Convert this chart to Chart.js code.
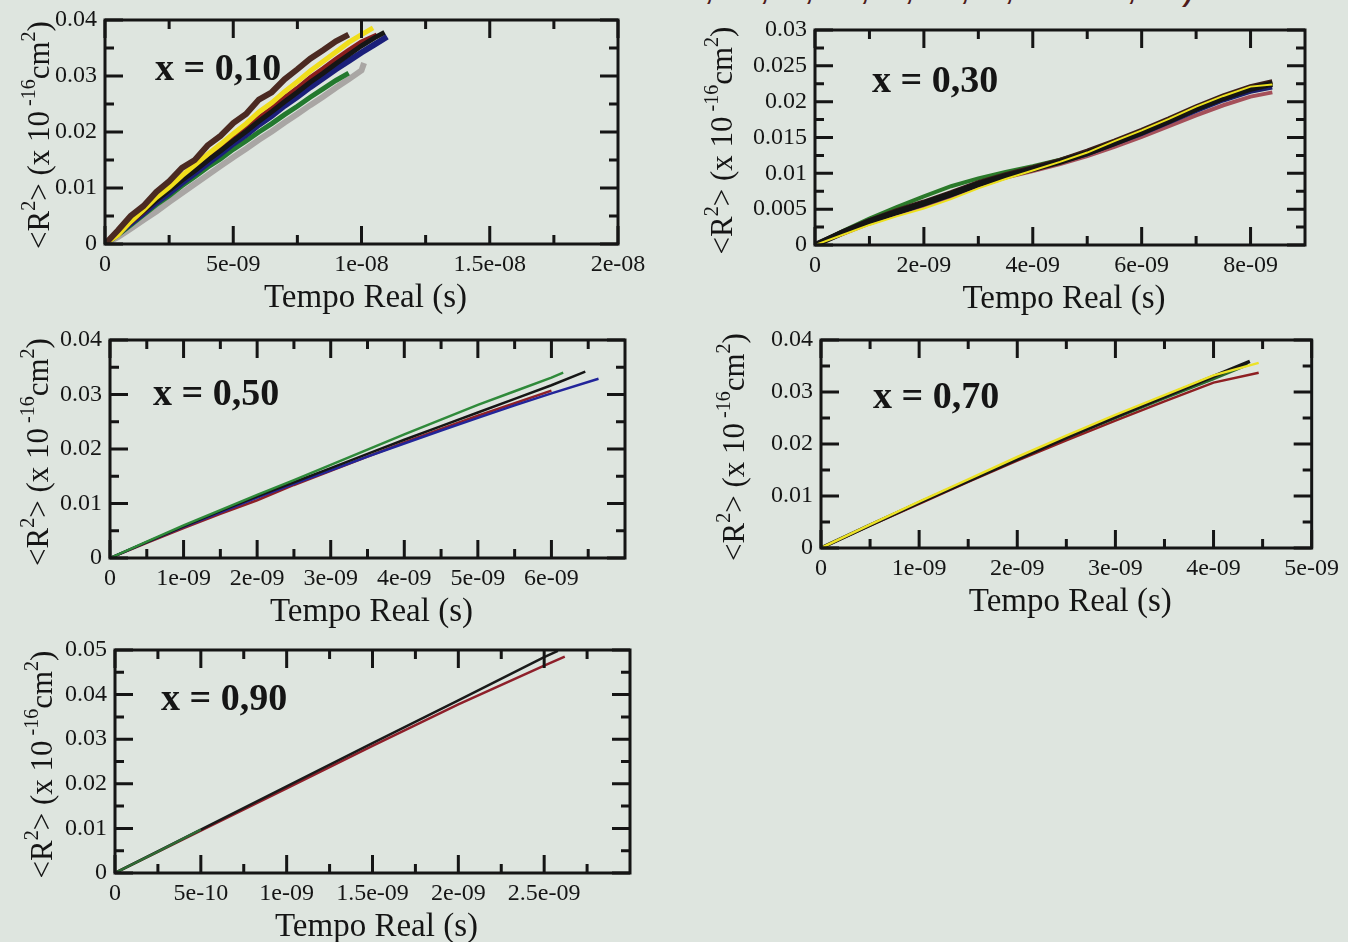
<!DOCTYPE html>
<html>
<head>
<meta charset="utf-8">
<script src="https://cdn.jsdelivr.net/npm/chart.js@4"></script>
<style>
  body { margin: 0; background: #dee5df; width: 1348px; height: 942px; overflow: hidden; position: relative; }
  canvas { position: absolute; }
  #slideTitle {
    position: absolute; left: 700px; top: -35px; width: 495px; height: 44px; overflow: hidden;
    font-family: "Liberation Sans", Arial, sans-serif; font-size: 40px; line-height: 40px;
    color: #4e1a1a; text-align: right; white-space: nowrap; direction: rtl;
  }
</style>
</head>
<body>
<div id="slideTitle"><span style="direction:ltr;unicode-bidi:embed">x = 0,10, 0,30, 0,50, 0,70 e 0,90)</span></div>
<canvas id="c1" width="660" height="320" style="left:0;top:0"></canvas>
<canvas id="c2" width="668" height="320" style="left:680px;top:0"></canvas>
<canvas id="c3" width="660" height="310" style="left:0;top:320px"></canvas>
<canvas id="c4" width="668" height="300" style="left:680px;top:320px"></canvas>
<canvas id="c5" width="660" height="312" style="left:0;top:630px"></canvas>
<script>
// time in ns (labels show seconds), <R2> in 1e-16 cm2

// ---- x = 0,10 ----
const p1XTicks = [0, 5, 10, 15, 20];
const p1XLabels = ["0", "5e-09", "1e-08", "1.5e-08", "2e-08"];
const p1XMinor = [2.5, 7.5, 12.5, 17.5];
const p1YTicks = [0, 0.01, 0.02, 0.03, 0.04];
const p1YLabels = ["0", "0.01", "0.02", "0.03", "0.04"];
const p1YMinor = [0.005, 0.015, 0.025, 0.035];

const p1BrownT = [0, 0.5, 1, 1.5, 2, 2.5, 3, 3.5, 4, 4.5, 5, 5.5, 6, 6.5, 7, 7.5, 8, 8.5, 9, 9.5];
const p1Brown = [0, 0.0024, 0.0050, 0.0068, 0.0093, 0.0112, 0.0136, 0.0150, 0.0176, 0.0193, 0.0216, 0.0232, 0.0258, 0.0271, 0.0294, 0.0312, 0.0331, 0.0346, 0.0362, 0.0374];
const p1YellowT = [0, 0.5, 1, 1.5, 2, 2.5, 3, 3.5, 4, 4.5, 5, 5.5, 6, 6.5, 7, 7.5, 8, 8.5, 9, 9.5, 10, 10.45];
const p1Yellow = [0, 0.0016, 0.0040, 0.0061, 0.0083, 0.0101, 0.0122, 0.0141, 0.0160, 0.0178, 0.0197, 0.0215, 0.0236, 0.0252, 0.0272, 0.0290, 0.0309, 0.0326, 0.0343, 0.0360, 0.0374, 0.0386];
const p1RedT = [0, 0.5, 1, 1.5, 2, 2.5, 3, 3.5, 4, 4.5, 5, 5.5, 6, 6.5, 7, 7.5, 8, 8.5, 9, 9.5, 10, 10.6];
const p1Red = [0, 0.0019, 0.0039, 0.0058, 0.0079, 0.0097, 0.0116, 0.0134, 0.0153, 0.0170, 0.0189, 0.0206, 0.0225, 0.0242, 0.0261, 0.0278, 0.0297, 0.0313, 0.0330, 0.0346, 0.0361, 0.0373];
const p1BlackT = [0, 0.5, 1, 1.5, 2, 2.5, 3, 3.5, 4, 4.5, 5, 5.5, 6, 6.5, 7, 7.5, 8, 8.5, 9, 9.5, 10, 10.5, 10.9];
const p1Black = [0, 0.0020, 0.0040, 0.0059, 0.0078, 0.0096, 0.0114, 0.0131, 0.0149, 0.0166, 0.0184, 0.0201, 0.0219, 0.0236, 0.0254, 0.0271, 0.0289, 0.0305, 0.0322, 0.0338, 0.0354, 0.0368, 0.0378];
const p1BlueT = [0, 0.5, 1, 1.5, 2, 2.5, 3, 3.5, 4, 4.5, 5, 5.5, 6, 6.5, 7, 7.5, 8, 8.5, 9, 9.5, 10, 10.5, 11];
const p1Blue = [0, 0.0018, 0.0037, 0.0055, 0.0074, 0.0091, 0.0109, 0.0126, 0.0144, 0.0161, 0.0179, 0.0195, 0.0213, 0.0229, 0.0247, 0.0263, 0.0280, 0.0296, 0.0312, 0.0327, 0.0342, 0.0356, 0.0370];
const p1GreenT = [0, 0.5, 1, 1.5, 2, 2.5, 3, 3.5, 4, 4.5, 5, 5.5, 6, 6.5, 7, 7.5, 8, 8.5, 9, 9.5];
const p1Green = [0, 0.0016, 0.0034, 0.0052, 0.0070, 0.0086, 0.0104, 0.0120, 0.0137, 0.0152, 0.0169, 0.0184, 0.0200, 0.0215, 0.0231, 0.0246, 0.0262, 0.0277, 0.0292, 0.0305];
const p1GrayT = [0, 0.5, 1, 1.5, 2, 2.5, 3, 3.5, 4, 4.5, 5, 5.5, 6, 6.5, 7, 7.5, 8, 8.5, 9, 9.5, 10, 10.1];
const p1Gray = [0, 0.0012, 0.0027, 0.0043, 0.0058, 0.0075, 0.0091, 0.0107, 0.0123, 0.0139, 0.0155, 0.0170, 0.0186, 0.0201, 0.0217, 0.0232, 0.0248, 0.0263, 0.0279, 0.0294, 0.0310, 0.0323];

// ---- x = 0,30 ----
const p2XTicks = [0, 2, 4, 6, 8];
const p2XLabels = ["0", "2e-09", "4e-09", "6e-09", "8e-09"];
const p2XMinor = [1, 3, 5, 7];
const p2YTicks = [0, 0.005, 0.01, 0.015, 0.02, 0.025, 0.03];
const p2YLabels = ["0", "0.005", "0.01", "0.015", "0.02", "0.025", "0.03"];
const p2YMinor = [0.0025, 0.0075, 0.0125, 0.0175, 0.0225, 0.0275];

const p2T = [0, 0.5, 1, 1.5, 2, 2.5, 3, 3.5, 4, 4.5, 5, 5.5, 6, 6.5, 7, 7.5, 8, 8.4];
const p2Black = [0, 0.0017, 0.0033, 0.0046, 0.0058, 0.0071, 0.0085, 0.0096, 0.0106, 0.0116, 0.0128, 0.0142, 0.0157, 0.0173, 0.0190, 0.0205, 0.0218, 0.0225];
const p2Green = [0, 0.0019, 0.0037, 0.0053, 0.0068, 0.0082, 0.0093, 0.0102, 0.0110, 0.0119, 0.0130, 0.0143, 0.0158, 0.0174, 0.0190, 0.0206, 0.0219, 0.0226];
const p2Yellow = [0, 0.0014, 0.0028, 0.0040, 0.0051, 0.0064, 0.0079, 0.0092, 0.0104, 0.0116, 0.0129, 0.0145, 0.0160, 0.0176, 0.0193, 0.0208, 0.0221, 0.0224];
const p2Pink = [0, 0.0015, 0.0030, 0.0043, 0.0055, 0.0068, 0.0082, 0.0094, 0.0103, 0.0113, 0.0124, 0.0137, 0.0151, 0.0166, 0.0181, 0.0195, 0.0207, 0.0213];
const p2Brown = [0, 0.0018, 0.0034, 0.0048, 0.0060, 0.0073, 0.0087, 0.0098, 0.0108, 0.0118, 0.0131, 0.0145, 0.0160, 0.0176, 0.0193, 0.0208, 0.0221, 0.0228];
const p2Blue = [0, 0.0016, 0.0031, 0.0044, 0.0056, 0.0069, 0.0083, 0.0095, 0.0105, 0.0115, 0.0126, 0.0140, 0.0154, 0.0170, 0.0186, 0.0201, 0.0213, 0.0219];

// ---- x = 0,50 ----
const p3XTicks = [0, 1, 2, 3, 4, 5, 6];
const p3XLabels = ["0", "1e-09", "2e-09", "3e-09", "4e-09", "5e-09", "6e-09"];
const p3XMinor = [0.5, 1.5, 2.5, 3.5, 4.5, 5.5, 6.5];
const p3YTicks = [0, 0.01, 0.02, 0.03, 0.04];
const p3YLabels = ["0", "0.01", "0.02", "0.03", "0.04"];
const p3YMinor = [0.005, 0.015, 0.025, 0.035];

const p3GreenT = [0, 0.5, 1, 1.5, 2, 2.5, 3, 3.5, 4, 4.5, 5, 5.5, 6, 6.16];
const p3Green = [0, 0.0030, 0.0060, 0.0088, 0.0116, 0.0143, 0.0171, 0.0199, 0.0227, 0.0254, 0.0281, 0.0306, 0.0331, 0.0340];
const p3BlackT = [0, 0.5, 1, 1.5, 2, 2.5, 3, 3.5, 4, 4.5, 5, 5.5, 6, 6.46];
const p3Black = [0, 0.0029, 0.0058, 0.0086, 0.0113, 0.0139, 0.0165, 0.0191, 0.0217, 0.0242, 0.0267, 0.0292, 0.0317, 0.0342];
const p3BlueT = [0, 0.5, 1, 1.5, 2, 2.5, 3, 3.5, 4, 4.5, 5, 5.5, 6, 6.64];
const p3Blue = [0, 0.0029, 0.0057, 0.0084, 0.0111, 0.0136, 0.0161, 0.0186, 0.0210, 0.0234, 0.0257, 0.0280, 0.0302, 0.0329];
const p3RedT = [0, 0.5, 1, 1.5, 2, 2.5, 3, 3.5, 4, 4.5, 5, 5.5, 6];
const p3Red = [0, 0.0028, 0.0055, 0.0081, 0.0106, 0.0134, 0.0160, 0.0186, 0.0212, 0.0237, 0.0261, 0.0284, 0.0307];

// ---- x = 0,70 ----
const p4XTicks = [0, 1, 2, 3, 4, 5];
const p4XLabels = ["0", "1e-09", "2e-09", "3e-09", "4e-09", "5e-09"];
const p4XMinor = [0.5, 1.5, 2.5, 3.5, 4.5];
const p4YTicks = [0, 0.01, 0.02, 0.03, 0.04];
const p4YLabels = ["0", "0.01", "0.02", "0.03", "0.04"];
const p4YMinor = [0.005, 0.015, 0.025, 0.035];

const p4BlackT = [0, 0.5, 1, 1.5, 2, 2.5, 3, 3.5, 4, 4.37];
const p4Black = [0, 0.0044, 0.0087, 0.0129, 0.0171, 0.0212, 0.0252, 0.0291, 0.0330, 0.0359];
const p4YellowT = [0, 0.5, 1, 1.5, 2, 2.5, 3, 3.5, 4, 4.46];
const p4Yellow = [0, 0.0045, 0.0089, 0.0132, 0.0175, 0.0216, 0.0256, 0.0294, 0.0332, 0.0356];
const p4RedT = [0, 0.5, 1, 1.5, 2, 2.5, 3, 3.5, 4, 4.46];
const p4Red = [0, 0.0043, 0.0085, 0.0127, 0.0168, 0.0207, 0.0245, 0.0282, 0.0318, 0.0337];
const p4GreenT = [0, 0.5, 1, 1.5, 2, 2.5, 3, 3.5, 4, 4.35];
const p4Green = [0, 0.0044, 0.0088, 0.0130, 0.0172, 0.0212, 0.0250, 0.0288, 0.0325, 0.0352];

// ---- x = 0,90 ----
const p5XTicks = [0, 0.5, 1, 1.5, 2, 2.5];
const p5XLabels = ["0", "5e-10", "1e-09", "1.5e-09", "2e-09", "2.5e-09"];
const p5XMinor = [0.25, 0.75, 1.25, 1.75, 2.25, 2.75];
const p5YTicks = [0, 0.01, 0.02, 0.03, 0.04, 0.05];
const p5YLabels = ["0", "0.01", "0.02", "0.03", "0.04", "0.05"];
const p5YMinor = [0.005, 0.015, 0.025, 0.035, 0.045];

const p5BlackT = [0, 0.5, 1, 1.5, 2, 2.5, 2.58];
const p5Black = [0, 0.0097, 0.0194, 0.0291, 0.0387, 0.0484, 0.0498];
const p5RedT = [0, 0.5, 1, 1.5, 2, 2.5, 2.62];
const p5Red = [0, 0.0095, 0.0190, 0.0285, 0.0378, 0.0465, 0.0485];
const p5GreenT = [0, 0.25, 0.5];
const p5Green = [0, 0.0048, 0.0097];

const SERIF = "'Liberation Serif', 'Times New Roman', serif";
const INK = "#151515";

function pts(xs, ys) {
    return xs.map((x, i) => ({ x: x, y: ys[i] }));
}

function line(xs, ys, color, width) {
    return {
        data: pts(xs, ys),
        borderColor: color,
        borderWidth: width,
        pointRadius: 0,
        tension: 0,
        fill: false
    };
}

// frame, inward ticks on all sides, panel label and axis titles
const decor = {
    id: "decor",
    afterDatasetsDraw(chart, args, o) {
        const ctx = chart.ctx;
        const a = chart.chartArea;
        const xs = chart.scales.x, ys = chart.scales.y;
        ctx.save();
        ctx.strokeStyle = INK;
        ctx.lineWidth = 3;
        ctx.lineCap = "butt";
        ctx.strokeRect(a.left, a.top, a.right - a.left, a.bottom - a.top);
        const tick = (vals, len, horiz) => {
            vals.forEach(v => {
                ctx.beginPath();
                if (horiz) {
                    const p = xs.getPixelForValue(v);
                    ctx.moveTo(p, a.bottom); ctx.lineTo(p, a.bottom - len);
                    ctx.moveTo(p, a.top); ctx.lineTo(p, a.top + len);
                } else {
                    const p = ys.getPixelForValue(v);
                    ctx.moveTo(a.left, p); ctx.lineTo(a.left + len, p);
                    ctx.moveTo(a.right, p); ctx.lineTo(a.right - len, p);
                }
                ctx.stroke();
            });
        };
        tick(o.xMajor, 18, true);
        tick(o.xMinor, 9, true);
        tick(o.yMajor, 18, false);
        tick(o.yMinor, 9, false);

        ctx.fillStyle = INK;
        ctx.textBaseline = "middle";
        ctx.textAlign = "left";
        ctx.font = "bold 38px " + SERIF;
        ctx.fillText(o.label, a.left + o.labelDx, a.top + o.labelDy);

        ctx.textAlign = "center";
        ctx.textBaseline = "alphabetic";
        ctx.font = "33px " + SERIF;
        ctx.fillText("Tempo Real (s)", (a.left + a.right) / 2 + 4, a.bottom + 63);

        // rotated y title with superscripts
        const parts = [["<R", 0], ["2", 1], ["> (x 10", 0], [" -16", 1], ["cm", 0], ["2", 1], [")", 0]];
        const big = "31px " + SERIF, small = "20px " + SERIF;
        let total = 0;
        parts.forEach(p => { ctx.font = p[1] ? small : big; total += ctx.measureText(p[0]).width; });
        ctx.translate(a.left - o.titleDx, (a.top + a.bottom) / 2 + 3);
        ctx.rotate(-Math.PI / 2);
        ctx.textAlign = "left";
        let x = -total / 2;
        parts.forEach(p => {
            ctx.font = p[1] ? small : big;
            ctx.fillText(p[0], x, p[1] ? -3 : 11);
            x += ctx.measureText(p[0]).width;
        });
        ctx.restore();
    }
};

function makePanel(id, box, ax, series, deco) {
    new Chart(document.getElementById(id), {
        type: "line",
        data: { datasets: series },
        options: {
            responsive: false,
            animation: false,
            layout: { padding: { top: box.padT, right: box.padR, left: 0, bottom: 0 } },
            plugins: { legend: { display: false }, tooltip: { enabled: false }, decor: deco },
            scales: {
                x: {
                    type: "linear", min: 0, max: ax.xMax,
                    afterBuildTicks: s => { s.ticks = ax.xTicks.map(v => ({ value: v })); },
                    afterFit: s => { s.height = box.xH; },
                    ticks: {
                        autoSkip: false, maxRotation: 0, padding: 9, color: INK,
                        font: { family: SERIF, size: 24, lineHeight: 1 },
                        callback: (v, i) => ax.xLabels[i]
                    },
                    grid: { display: false, drawTicks: false },
                    border: { display: false }
                },
                y: {
                    type: "linear", min: 0, max: ax.yMax,
                    afterBuildTicks: s => { s.ticks = ax.yTicks.map(v => ({ value: v })); },
                    afterFit: s => { s.width = box.yW; },
                    ticks: {
                        autoSkip: false, padding: 8, color: INK,
                        font: { family: SERIF, size: 24, lineHeight: 1 },
                        callback: (v, i) => ax.yLabels[i]
                    },
                    grid: { display: false, drawTicks: false },
                    border: { display: false }
                }
            }
        },
        plugins: [decor]
    });
}

makePanel("c1", { padT: 20, padR: 42, xH: 76, yW: 105 },
    { xMax: 20, yMax: 0.04, xTicks: p1XTicks, xLabels: p1XLabels, yTicks: p1YTicks, yLabels: p1YLabels },
    [
        line(p1BrownT, p1Brown, "#4b2a22", 6),
        line(p1YellowT, p1Yellow, "#f0de1c", 5),
        line(p1BlackT, p1Black, "#161616", 5),
        line(p1RedT, p1Red, "#8a1d1d", 5),
        line(p1BlueT, p1Blue, "#1b1f7a", 6),
        line(p1GreenT, p1Green, "#23792e", 5),
        line(p1GrayT, p1Gray, "#a9a6a4", 6)
    ],
    { xMajor: p1XTicks, xMinor: p1XMinor, yMajor: p1YTicks, yMinor: p1YMinor, label: "x = 0,10", labelDx: 50, labelDy: 50, titleDx: 67 });

makePanel("c2", { padT: 30, padR: 43, xH: 75, yW: 135 },
    { xMax: 9, yMax: 0.03, xTicks: p2XTicks, xLabels: p2XLabels, yTicks: p2YTicks, yLabels: p2YLabels },
    [
        line(p2T, p2Yellow, "#ece01e", 2),
        line(p2T, p2Black, "#141414", 6),
        line(p2T, p2Brown, "#3a1c18", 5),
        line(p2T, p2Blue, "#1b1f6a", 3),
        line(p2T, p2Green, "#2b7a2a", 4),
        line(p2T, p2Pink, "#a5505a", 4)
    ],
    { xMajor: p2XTicks, xMinor: p2XMinor, yMajor: p2YTicks, yMinor: p2YMinor, label: "x = 0,30", labelDx: 57, labelDy: 52, titleDx: 94 });

makePanel("c3", { padT: 13, padR: 35, xH: 72, yW: 110 },
    { xMax: 7, yMax: 0.04, xTicks: p3XTicks, xLabels: p3XLabels, yTicks: p3YTicks, yLabels: p3YLabels },
    [
        line(p3GreenT, p3Green, "#2f8a3a", 2.5),
        line(p3BlackT, p3Black, "#161616", 2.5),
        line(p3BlueT, p3Blue, "#22259a", 2.5),
        line(p3RedT, p3Red, "#8e2028", 2.5)
    ],
    { xMajor: p3XTicks, xMinor: p3XMinor, yMajor: p3YTicks, yMinor: p3YMinor, label: "x = 0,50", labelDx: 43, labelDy: 55, titleDx: 73 });

makePanel("c4", { padT: 15, padR: 36, xH: 72, yW: 141 },
    { xMax: 5, yMax: 0.04, xTicks: p4XTicks, xLabels: p4XLabels, yTicks: p4YTicks, yLabels: p4YLabels },
    [
        line(p4YellowT, p4Yellow, "#ece227", 2.5),
        line(p4BlackT, p4Black, "#161616", 3.5),
        line(p4GreenT, p4Green, "#2a6a2e", 2.5),
        line(p4RedT, p4Red, "#8e1f22", 2.5)
    ],
    { xMajor: p4XTicks, xMinor: p4XMinor, yMajor: p4YTicks, yMinor: p4YMinor, label: "x = 0,70", labelDx: 52, labelDy: 58, titleDx: 88 });

makePanel("c5", { padT: 15, padR: 30, xH: 69, yW: 115 },
    { xMax: 3, yMax: 0.05, xTicks: p5XTicks, xLabels: p5XLabels, yTicks: p5YTicks, yLabels: p5YLabels },
    [
        line(p5GreenT, p5Green, "#2f6a35", 2.5),
        line(p5BlackT, p5Black, "#1a1a1a", 2.5),
        line(p5RedT, p5Red, "#8e1f2a", 2.5)
    ],
    { xMajor: p5XTicks, xMinor: p5XMinor, yMajor: p5YTicks, yMinor: p5YMinor, label: "x = 0,90", labelDx: 46, labelDy: 50, titleDx: 74 });
</script>
</body>
</html>
